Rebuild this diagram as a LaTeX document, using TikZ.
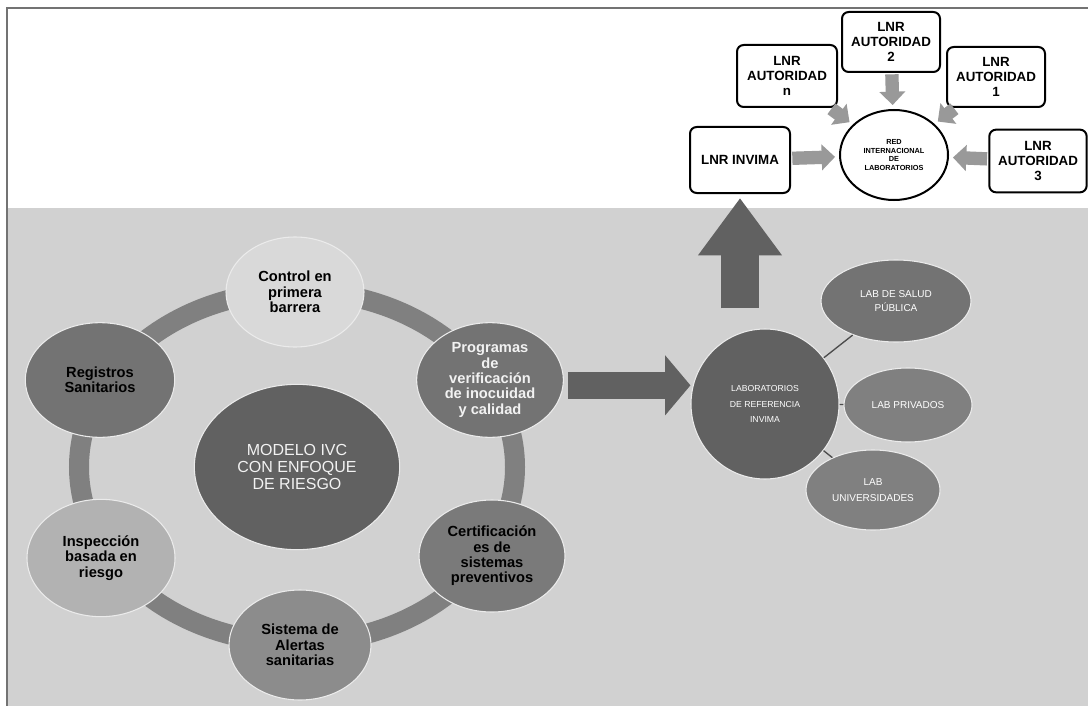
\documentclass[tikz,border=0pt]{standalone}
\usepackage{fontspec}
\setmainfont{Liberation Sans}
\usetikzlibrary{shapes.geometric,arrows.meta}

\begin{document}
\begin{tikzpicture}[x=0.75pt,y=-0.75pt,
  cyc/.style={ellipse, draw=black!8, line width=0.8pt, inner sep=0pt, align=center, font=\bfseries\fontsize{11}{11.5}\selectfont},
  labnode/.style={ellipse, draw=black!8, line width=0.8pt, inner sep=0pt, align=center, text=white, font=\fontsize{7.5}{10}\selectfont},
  lnr/.style={rectangle, rounded corners=5pt, draw, line width=1.5pt, fill=white, inner sep=0pt, align=center, font=\bfseries\fontsize{10}{11.5}\selectfont},
  ring/.style={line width=15pt, black!50},
  grayarr/.style={line width=10pt, black!40, -{Triangle[length=10pt,width=19pt]}, shorten <=1pt, shorten >=3pt},
  link/.style={black!70, line width=1pt}]
\useasboundingbox (0,0) rectangle (1088,706);
\fill[white] (0,0) rectangle (1088,706);
\fill[black!18] (8,208) rectangle (1088,706);
\draw[black!55, line width=0.9pt] (7,706) -- (7,8) -- (1088,8);

\node[cyc, fill=black!62, text=black!5, font=\fontsize{12}{13}\selectfont, minimum width=154pt, minimum height=124pt] (model) at (297,467) {MODELO IVC\\CON ENFOQUE\\DE RIESGO};
\draw[ring] (model.center) ellipse [x radius=163.5pt, y radius=132pt];

\node[cyc, fill=black!15, minimum width=103.5pt, minimum height=82.5pt] (ctrl) at (295,292) {Control en\\primera\\barrera};
\node[cyc, fill=black!55, minimum width=110pt, minimum height=86pt] (prog) at (490,380) {\textcolor{black!5}{Programas}\\\textcolor{black!5}{de}\\\textcolor{black!5}{verificación}\\\textcolor{black!5}{de inocuidad}\\\textcolor{black!5}{y calidad}};
\node[cyc, fill=black!52, minimum width=109.5pt, minimum height=84pt] (cert) at (492,556) {Certificación\\es de\\sistemas\\preventivos};
\node[cyc, fill=black!45, minimum width=106.5pt, minimum height=82.5pt] (alert) at (300,645) {Sistema de\\Alertas\\sanitarias};
\node[cyc, fill=black!30, minimum width=111pt, minimum height=88pt] (insp) at (101,558) {Inspección\\basada en\\riesgo};
\node[cyc, fill=black!55, minimum width=112pt, minimum height=86pt] (reg) at (100,380) {Registros\\Sanitarios};

\node[labnode, fill=black!62, font=\fontsize{6.5}{11.5}\selectfont, minimum width=111pt, minimum height=112.5pt] (lab) at (765,404) {LABORATORIOS\\DE REFERENCIA\\INVIMA};
\node[labnode, fill=black!55, minimum width=112.5pt, minimum height=61.5pt] (salud) at (896,301) {LAB DE SALUD\\PÚBLICA};
\node[labnode, fill=black!50, minimum width=96pt, minimum height=55.5pt] (priv) at (908,405) {LAB PRIVADOS};
\node[labnode, fill=black!50, font=\fontsize{7.5}{12}\selectfont, minimum width=100.5pt, minimum height=60pt] (univ) at (873,490) {LAB\\UNIVERSIDADES};
\draw[link] (lab) -- (salud);
\draw[link] (lab) -- (priv);
\draw[link] (lab) -- (univ);

\node[lnr, minimum width=73.5pt, minimum height=45pt] (aut2) at (891,42) {LNR\\AUTORIDAD\\2};
\node[lnr, minimum width=75pt, minimum height=46.5pt] (autn) at (787,76) {LNR\\AUTORIDAD\\n};
\node[lnr, minimum width=73.5pt, minimum height=45pt] (aut1) at (996,77) {LNR\\AUTORIDAD\\1};
\node[lnr, minimum width=75pt, minimum height=49.5pt] (invima) at (740,160) {LNR INVIMA};
\node[lnr, minimum width=73pt, minimum height=47pt] (aut3) at (1038,161) {LNR\\AUTORIDAD\\3};
\node[ellipse, draw, line width=1.5pt, fill=white, inner sep=0pt, align=center, font=\bfseries\fontsize{5.5}{6.5}\selectfont, minimum width=81pt, minimum height=67.5pt] (red) at (894,155) {RED\\INTERNACIONAL\\DE\\LABORATORIOS};
\draw[grayarr] (invima) -- (red);
\draw[grayarr] (aut3) -- (red);
\draw[grayarr] (aut2) -- (red);
\draw[grayarr] (autn) -- (red);
\draw[grayarr] (aut1) -- (red);

\coordinate (harr) at ([yshift=-4pt]prog.east);
\draw[line width=20pt, black!62, -{Triangle[length=19pt,width=44pt]}, shorten <=3pt] (harr) -- (harr -| lab.west);
\draw[line width=28pt, black!62, -{Triangle[length=43pt,width=60pt]}, shorten <=15pt, shorten >=3pt] (invima.south |- lab.north) -- (invima.south);
\end{tikzpicture}
\end{document}
